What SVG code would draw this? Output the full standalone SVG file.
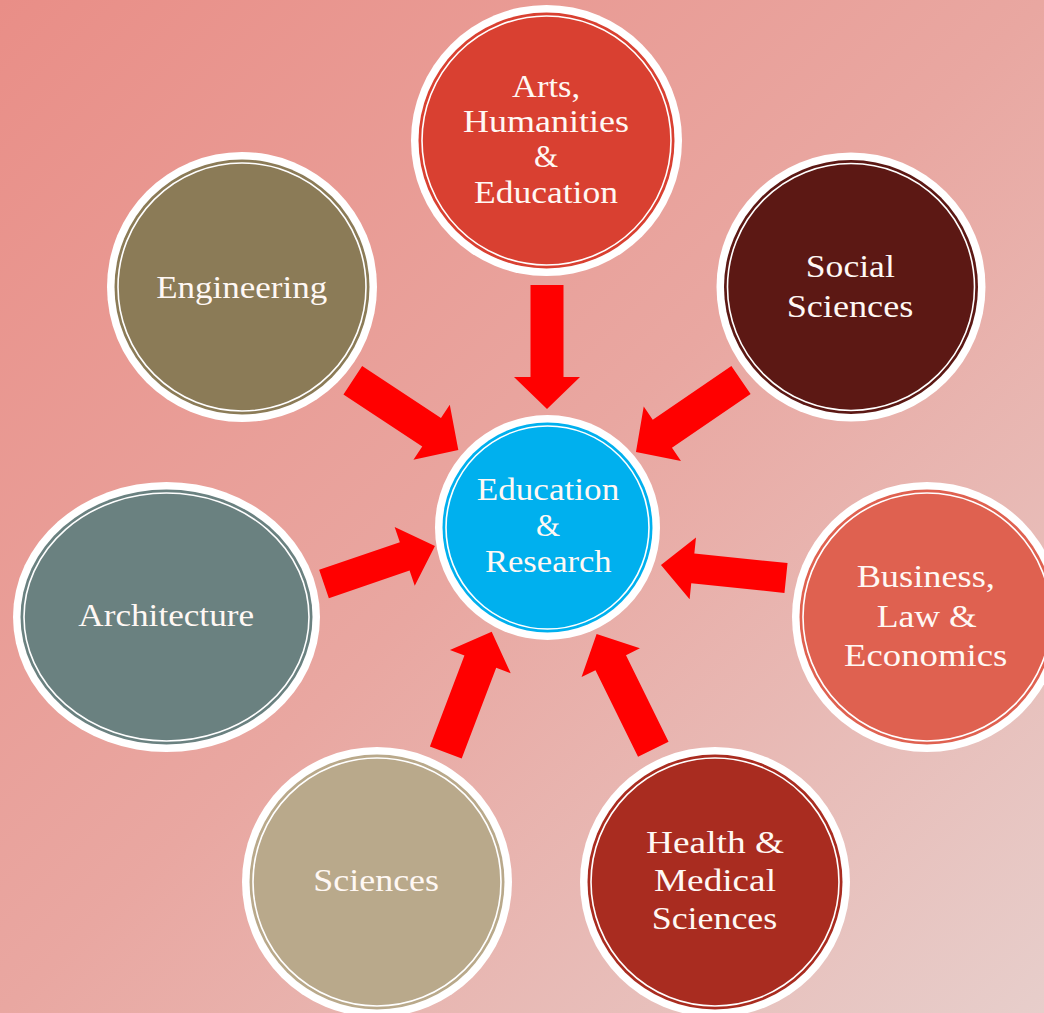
<svg xmlns="http://www.w3.org/2000/svg" width="1044" height="1013" viewBox="0 0 1044 1013">
<defs>
<linearGradient id="bg" x1="0" y1="0" x2="1" y2="1">
<stop offset="0" stop-color="#E98E87"/>
<stop offset="0.5" stop-color="#E9A7A1"/>
<stop offset="1" stop-color="#E7CECB"/>
</linearGradient>
</defs>
<style>
.ring{fill:#FFFFFF}
.inner{fill:none;stroke:#FFFFFF;stroke-width:1.6}
.arrow{fill:#FF0000}
text{font-family:"Liberation Serif","Times New Roman",serif;font-size:31px;fill:#FFF8F4;text-anchor:middle}
</style>
<rect width="1044" height="1013" fill="url(#bg)"/>
<g id="connectors">
<polygon class="arrow" transform="translate(547,285) rotate(90)" points="0,-16.5 92,-16.5 92,-33 124,0 92,33 92,16.5 0,16.5"/>
<polygon class="arrow" transform="translate(352.8,380.3) rotate(33.4)" points="0,-17 94.4,-17 94.4,-33 126.4,0 94.4,33 94.4,17 0,17"/>
<polygon class="arrow" transform="translate(741,380) rotate(145.6)" points="0,-17 95.3,-17 95.3,-33 127.3,0 95.3,33 95.3,17 0,17"/>
<polygon class="arrow" transform="translate(324,584) rotate(-18.9)" points="0,-15 85.3,-15 85.3,-31 117.3,0 85.3,31 85.3,15 0,15"/>
<polygon class="arrow" transform="translate(786,578) rotate(185.9)" points="0,-15 93.7,-15 93.7,-31 125.7,0 93.7,31 93.7,15 0,15"/>
<polygon class="arrow" transform="translate(445.8,752.5) rotate(-69.2)" points="0,-17 97.2,-17 97.2,-32.5 129.2,0 97.2,32.5 97.2,17 0,17"/>
<polygon class="arrow" transform="translate(653.3,749.2) rotate(-116.2)" points="0,-17 96.4,-17 96.4,-32.5 128.4,0 96.4,32.5 96.4,17 0,17"/>
</g>
<g id="node-arts">
<circle class="ring" cx="546.5" cy="140.5" r="135.5"/>
<circle cx="546.5" cy="140.5" r="128" fill="#D94031"/>
<circle class="inner" cx="546.5" cy="140.5" r="124.5"/>
<text x="546" y="97" textLength="68" lengthAdjust="spacingAndGlyphs">Arts,</text>
<text x="546" y="132" textLength="166" lengthAdjust="spacingAndGlyphs">Humanities</text>
<text x="546" y="167">&amp;</text>
<text x="546" y="203" textLength="144" lengthAdjust="spacingAndGlyphs">Education</text>
</g>
<g id="node-engineering">
<circle class="ring" cx="242" cy="287" r="135"/>
<circle cx="242" cy="287" r="127.5" fill="#8B7B57"/>
<circle class="inner" cx="242" cy="287" r="124"/>
<text x="241.7" y="297.7" textLength="171" lengthAdjust="spacingAndGlyphs">Engineering</text>
</g>
<g id="node-social">
<circle class="ring" cx="851" cy="287" r="134.5"/>
<circle cx="851" cy="287" r="127" fill="#5C1814"/>
<circle class="inner" cx="851" cy="287" r="123.5"/>
<text x="850.3" y="277.3" textLength="89" lengthAdjust="spacingAndGlyphs">Social</text>
<text x="850" y="316.7" textLength="126.6" lengthAdjust="spacingAndGlyphs">Sciences</text>
</g>
<g id="node-architecture">
<ellipse class="ring" cx="166.5" cy="617" rx="153.5" ry="135"/>
<ellipse cx="166.5" cy="617" rx="146" ry="127.5" fill="#6A8180"/>
<ellipse class="inner" cx="166.5" cy="617" rx="142.5" ry="124"/>
<text x="166.2" y="625.7" textLength="175.7" lengthAdjust="spacingAndGlyphs">Architecture</text>
</g>
<g id="node-business">
<circle class="ring" cx="927" cy="617" r="135"/>
<circle cx="927" cy="617" r="127.5" fill="#DF6150"/>
<circle class="inner" cx="927" cy="617" r="124"/>
<text x="925.8" y="586.7" textLength="138.3" lengthAdjust="spacingAndGlyphs">Business,</text>
<text x="926.7" y="626.7" textLength="100" lengthAdjust="spacingAndGlyphs">Law &amp;</text>
<text x="925.7" y="665.7" textLength="163.3" lengthAdjust="spacingAndGlyphs">Economics</text>
</g>
<g id="node-sciences">
<circle class="ring" cx="377" cy="882" r="135"/>
<circle cx="377" cy="882" r="127.5" fill="#B9A98B"/>
<circle class="inner" cx="377" cy="882" r="124"/>
<text x="376.2" y="890.7" textLength="125.7" lengthAdjust="spacingAndGlyphs">Sciences</text>
</g>
<g id="node-health">
<circle class="ring" cx="715" cy="882" r="135"/>
<circle cx="715" cy="882" r="127.5" fill="#A92C20"/>
<circle class="inner" cx="715" cy="882" r="124"/>
<text x="715" y="852.7" textLength="138" lengthAdjust="spacingAndGlyphs">Health &amp;</text>
<text x="715" y="891" textLength="122" lengthAdjust="spacingAndGlyphs">Medical</text>
<text x="714.5" y="929.3" textLength="125.6" lengthAdjust="spacingAndGlyphs">Sciences</text>
</g>
<g id="node-center">
<circle class="ring" cx="547.5" cy="527.5" r="112.5"/>
<circle cx="547.5" cy="527.5" r="105" fill="#00B0EE"/>
<circle class="inner" cx="547.5" cy="527.5" r="101.5"/>
<text x="548" y="500" textLength="142.6" lengthAdjust="spacingAndGlyphs">Education</text>
<text x="548" y="536">&amp;</text>
<text x="548.3" y="571.7" textLength="126.7" lengthAdjust="spacingAndGlyphs">Research</text>
</g>
</svg>
